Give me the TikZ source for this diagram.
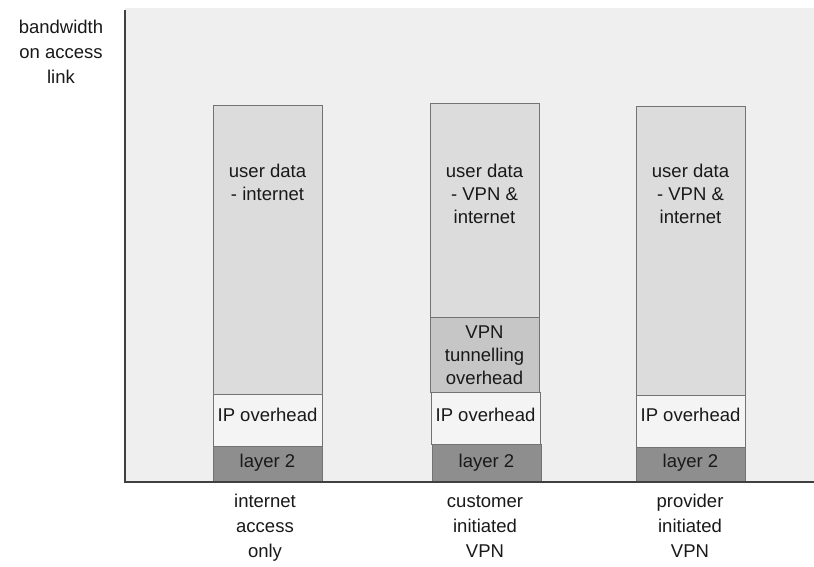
\documentclass[tikz,border=0pt]{standalone}
\usepackage{fontspec}
\setmainfont{Liberation Sans}
\begin{document}
\begin{tikzpicture}[x=1pt,y=-1pt,
  seg/.style={draw=black!55,line width=0.9pt},
  barlabel/.style={anchor=base,align=center,inner sep=0pt,text=black!90,
    font=\fontsize{18.5}{23}\selectfont},
  axlabel/.style={anchor=base,align=center,inner sep=0pt,text=black!90,
    font=\fontsize{18.5}{25}\selectfont},
  axisline/.style={draw=black!75,line width=1.6pt}]
\definecolor{panel}{HTML}{EFEFEF}
\definecolor{userdata}{HTML}{DCDCDC}
\definecolor{ipover}{HTML}{F4F4F4}
\definecolor{vpnover}{HTML}{C6C6C6}
\definecolor{ltwo}{HTML}{8E8E8E}
\useasboundingbox (0,0) rectangle (814,566);
\fill[white] (0,0) rectangle (814,566);
% plotting area
\fill[panel] (125,8) rectangle (814,482);

% bar 1: internet access only (multi-line nodes sit on their last baseline)
\filldraw[seg,fill=userdata] (213,105) rectangle (322,394);
\filldraw[seg,fill=ipover] (213,394) rectangle (322,446);
\filldraw[seg,fill=ltwo] (213,446) rectangle (322,482);
\node[barlabel] (u1) at (267.5,200) {user data\\- internet};
\node[barlabel] (i1) at (267.5,421) {IP overhead};
\node[barlabel] (l1) at (267.5,467) {layer 2};

% bar 2: customer initiated VPN
\filldraw[seg,fill=userdata] (430,103) rectangle (539,317);
\filldraw[seg,fill=vpnover] (430,317) rectangle (539,392);
\filldraw[seg,fill=ipover] (431,392) rectangle (540,444);
\filldraw[seg,fill=ltwo] (432,444) rectangle (541,482);
\node[barlabel] (u2) at (484.5,223) {user data\\- VPN \&\\internet};
\node[barlabel] (v2) at (484.5,384) {VPN\\tunnelling\\overhead};
\node[barlabel] (i2) at (485.5,421) {IP overhead};
\node[barlabel] (l2) at (486.5,467) {layer 2};

% bar 3: provider initiated VPN
\filldraw[seg,fill=userdata] (636,106) rectangle (745,395);
\filldraw[seg,fill=ipover] (636,395) rectangle (745,447);
\filldraw[seg,fill=ltwo] (636,447) rectangle (745,482);
\node[barlabel] (u3) at (690.5,223) {user data\\- VPN \&\\internet};
\node[barlabel] (i3) at (690.5,421) {IP overhead};
\node[barlabel] (l3) at (690.5,467) {layer 2};

% axes
\coordinate (ytop) at (125,10);
\coordinate (origin) at (125,482);
\coordinate (xend) at (814,482);
\draw[axisline] (ytop) -- (origin) -- (xend);

% axis labels
\node[axlabel] (ylab) at (61,83) {bandwidth\\on access\\link};
\node[axlabel] (c1) at (265,557) {internet\\access\\only};
\node[axlabel] (c2) at (485,557) {customer\\initiated\\VPN};
\node[axlabel] (c3) at (690,557) {provider\\initiated\\VPN};
\end{tikzpicture}
\end{document}
